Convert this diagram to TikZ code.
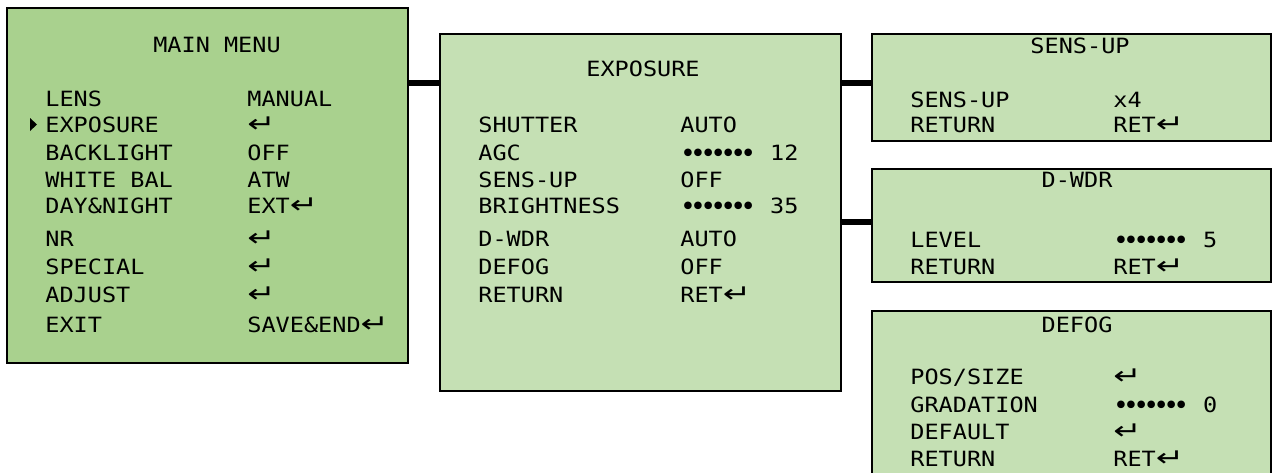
\documentclass[tikz,border=0pt]{standalone}
\usepackage{fontspec}
\newfontfamily\osdfont[FakeStretch=1.12]{DejaVu Sans Mono}
\newfontfamily\symfont[FakeStretch=1.35]{DejaVu Sans}
\newfontfamily\dotfont{DejaVu Sans}
\definecolor{osdgreen}{HTML}{A9D18E}
\definecolor{osdpale}{HTML}{C5E0B4}
\newcommand{\enter}{{\symfont\fontsize{12.5}{12.5}\selectfont ↵}}
\newcommand{\pip}{•\kern-2.65pt}
\newcommand{\level}{\raisebox{-1pt}{\dotfont\fontsize{13}{13}\selectfont\pip\pip\pip\pip\pip\pip•}}
\tikzset{
  menubox/.style={draw, line width=1.2pt, fill=osdpale, anchor=north west, inner sep=0pt},
  item/.style={anchor=base west, inner sep=0pt, font=\osdfont\fontsize{10.5}{12}\selectfont},
  heading/.style={item, anchor=base},
  link/.style={line width=2.6pt},
}
\begin{document}
\begin{tikzpicture}[x=0.5pt, y=-0.5pt]
        \clip (0,0) rectangle (1272,472);

        % Draw the menu boxes
        \node[menubox, fill=osdgreen, minimum width=200.5pt, minimum height=177.5pt] (main) at (6,7) {};
        \node[menubox, minimum width=200.5pt, minimum height=178.5pt] (expo) at (439,33) {};
        \node[menubox, minimum width=199.5pt, minimum height=53.5pt] (sensup) at (871,33) {};
        \node[menubox, minimum width=199.5pt, minimum height=56.5pt] (dwdr) at (871,168) {};
        \node[menubox, minimum width=199.5pt, minimum height=90pt] (defog) at (871,310) {};

        % Draw the links between menus
        \coordinate (upper) at (0,83);
        \coordinate (lower) at (0,222);
        \draw[link] (main.east |- upper) -- (expo.west |- upper);
        \draw[link] (expo.east |- upper) -- (sensup.west |- upper);
        \draw[link] (expo.east |- lower) -- (dwdr.west |- lower);

        % Add the menu titles
        \node[heading] (main-title) at (217,52) {MAIN MENU};
        \node[heading] (expo-title) at (643,76) {EXPOSURE};
        \node[heading] (sensup-title) at (1080,53) {SENS-UP};
        \node[heading] (dwdr-title) at (1077,187) {D-WDR};
        \node[heading] (defog-title) at (1077,332) {DEFOG};

        % Main menu items
        \fill (30,118) -- (37,124.5) -- (30,131) -- cycle; % cursor
        \foreach \y/\l/\v [count=\i] in {106/LENS/MANUAL, 132/EXPOSURE/\enter, 160/BACKLIGHT/OFF,
            187/WHITE BAL/ATW, 213/DAY\&NIGHT/EXT\enter, 246/NR/\enter, 274/SPECIAL/\enter,
            302/ADJUST/\enter, 332/EXIT/SAVE\&END\enter} {
          \node[item] (main-l\i) at (45,\y) {\l};
          \node[item] (main-v\i) at (247,\y) {\v};
        }

        % Exposure items
        \foreach \y/\l/\v [count=\i] in {132/SHUTTER/AUTO, 160/AGC/\level\ 12, 187/SENS-UP/OFF,
            213/BRIGHTNESS/\level\ 35, 246/D-WDR/AUTO, 274/DEFOG/OFF, 302/RETURN/RET\enter} {
          \node[item] (expo-l\i) at (478,\y) {\l};
          \node[item] (expo-v\i) at (680,\y) {\v};
        }

        % Sub menu items
        \foreach \y/\l/\v [count=\i] in {107/SENS-UP/x4, 132/RETURN/RET\enter,
            247/LEVEL/\level\ 5, 274/RETURN/RET\enter,
            384/{POS/SIZE}/\enter, 412/GRADATION/\level\ 0, 439/DEFAULT/\enter, 466/RETURN/RET\enter} {
          \node[item] (sub-l\i) at (910,\y) {\l};
          \node[item] (sub-v\i) at (1113,\y) {\v};
        }
    \end{tikzpicture}
\end{document}
